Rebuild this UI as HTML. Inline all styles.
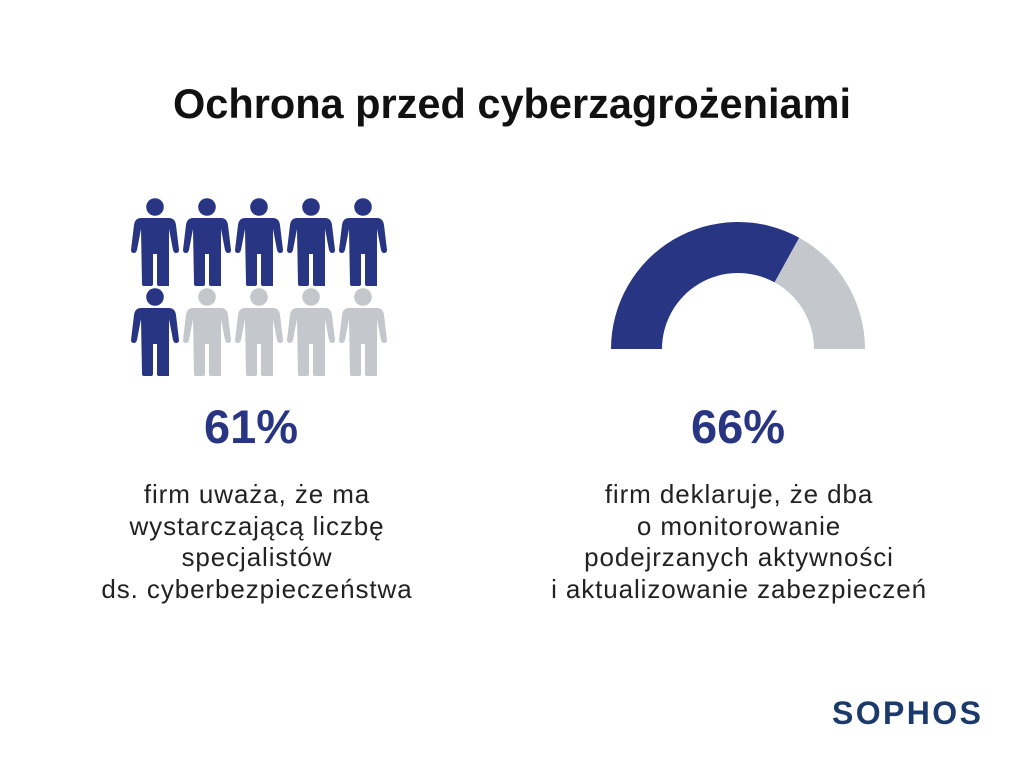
<!DOCTYPE html>
<html><head><meta charset="utf-8"><style>
body{margin:0;width:1024px;height:768px;background:#fff;font-family:"Liberation Sans",sans-serif;position:relative;overflow:hidden}
.t{position:absolute;left:0;width:1024px;text-align:center;top:80px;font-size:41.5px;font-weight:bold;color:#111}
.p{position:absolute;font-size:47px;font-weight:bold;color:#283583;text-align:center;width:300px}
.d{position:absolute;font-size:26px;letter-spacing:0.9px;line-height:31.5px;color:#222;text-align:center;width:460px}
.s{position:absolute;left:832px;top:695px;font-size:32px;font-weight:900;color:#1b3a6b;letter-spacing:2.4px}
</style></head><body>
<div class="t">Ochrona przed cyberzagrożeniami</div>
<svg width="1024" height="768" style="position:absolute;left:0;top:0">
<defs>
<g id="m">
<circle cx="23" cy="9" r="8.8"/>
<path d="M9 20 H37 Q43 20 44 27 L47 52 Q47 55 44 55 Q42 55 41 52 L37 31 V88 H27 Q25 88 25 86 V56 H21 V86 Q21 88 19 88 H12 Q10 88 10 86 L9 31 L5 52 Q4 55 2 55 Q-1 55 -1 52 L2 27 Q3 20 9 20Z"/>
</g>
</defs>
<g fill="#283583">
<use href="#m" x="132" y="198"/><use href="#m" x="184" y="198"/><use href="#m" x="236" y="198"/><use href="#m" x="288" y="198"/><use href="#m" x="340" y="198"/>
<use href="#m" x="132" y="288"/>
</g>
<g fill="#c4c7cc">
<use href="#m" x="184" y="288"/><use href="#m" x="236" y="288"/><use href="#m" x="288" y="288"/><use href="#m" x="340" y="288"/>
</g>
<path d="M611 349 A127 127 0 0 1 799.2 237.7 L774.6 282.4 A76 76 0 0 0 662 349Z" fill="#283583"/>
<path d="M799.2 237.7 A127 127 0 0 1 865 349 L814 349 A76 76 0 0 0 774.6 282.4Z" fill="#c4c7cc"/>
</svg>
<div class="p" style="left:101px;top:399px">61%</div>
<div class="p" style="left:588px;top:399px">66%</div>
<div class="d" style="left:27px;top:479px">firm uważa, że ma<br>wystarczającą liczbę<br>specjalistów<br>ds. cyberbezpieczeństwa</div>
<div class="d" style="left:509px;top:479px">firm deklaruje, że dba<br>o monitorowanie<br>podejrzanych aktywności<br>i aktualizowanie zabezpieczeń</div>
<div class="s">SOPHOS</div>
</body></html>
